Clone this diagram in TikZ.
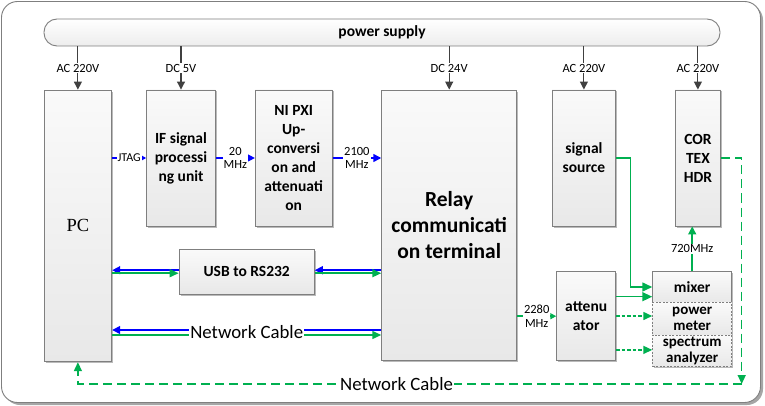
\documentclass[tikz,border=0pt]{standalone}
\usepackage{fontspec}
\setmainfont{Carlito}
\newfontfamily\serifpc{Liberation Serif}
\usepackage{tikz}
\usetikzlibrary{arrows.meta,calc,positioning,shadows}
\definecolor{LinkBlue}{HTML}{0000FF}
\definecolor{LinkGreen}{HTML}{00B050}
\definecolor{BoxEdge}{HTML}{7F7F7F}
\definecolor{PowerGray}{HTML}{404040}

\begin{document}
\begin{tikzpicture}[x=1pt,y=-1pt,
  blockbox/.style={draw=BoxEdge,line width=.9pt,top color=black!2,bottom color=black!9,
    drop shadow={shadow xshift=1.5pt,shadow yshift=-1.5pt,fill=black!45,opacity=.6},
    inner sep=1pt,align=center,font=\fontsize{15.5}{19}\selectfont\bfseries},
  dashbox/.style={dash pattern=on 2pt off 1.5pt},
  boxtext/.style={inner sep=0pt,align=center,font=\fontsize{15}{16.5}\selectfont\bfseries},
  lbl/.style={fill=white,inner sep=1pt,align=center,font=\fontsize{12.5}{13.5}\selectfont},
  cablelbl/.style={fill=white,inner sep=1pt,font=\fontsize{18.8}{20}\selectfont},
  powerline/.style={draw=PowerGray,line width=1.1pt,-{Triangle[length=8pt,width=8pt]}},
  bluelink/.style={draw=LinkBlue,line width=1.5pt,-{Triangle[length=8pt,width=8pt]}},
  greenlink/.style={draw=LinkGreen,line width=1.5pt,-{Triangle[length=9pt,width=8pt]}}]
  \useasboundingbox (0,0) rectangle (765,406);
  \fill[white] (0,0) rectangle (765,406);
  % outer frame
  \fill[black!35,rounded corners=16pt] (4,4) rectangle (763,405);
  \draw[BoxEdge,fill=white,line width=.9pt,rounded corners=16pt] (1.5,1.5) rectangle (760.5,402.5);
  % blocks
  \node[draw=BoxEdge,line width=.9pt,rounded corners=13pt,top color=white,bottom color=black!7,
    minimum width=676pt,minimum height=27pt,font=\fontsize{15.5}{19}\selectfont\bfseries]
    (bar) at (382,32.5) {power supply};
  \node[blockbox,minimum width=67.7pt,minimum height=271.7pt,font={\serifpc\fontsize{18.5}{20}\selectfont}]
    (pc) at (77.9,225.9) {PC};
  \node[blockbox,minimum width=68.6pt,minimum height=136pt] (ifu) at (181,158) {IF signal\\processi\\ng unit};
  \node[blockbox,minimum width=76.7pt,minimum height=136pt] (nipxi) at (293.7,158) {NI PXI\\Up-\\conversi\\on and\\attenuati\\on};
  \node[blockbox,minimum width=135pt,minimum height=270.7pt,font=\fontsize{21.5}{26}\selectfont\bfseries]
    (relay) at (449.2,225.4) {Relay\\communicati\\on terminal};
  \node[blockbox,minimum width=63.7pt,minimum height=136pt] (sig) at (583.9,158) {signal\\source};
  \node[blockbox,minimum width=45.7pt,minimum height=136pt] (cortex) at (697.9,158) {COR\\TEX\\HDR};
  \node[blockbox,minimum width=135.3pt,minimum height=44.7pt] (usb) at (246.7,271.7) {USB to RS232};
  \node[blockbox,minimum width=59pt,minimum height=89pt] (att) at (586.2,316.2) {attenu\\ator};
  \node[blockbox,minimum width=79pt,minimum height=30.6pt] (mixer) at (692.2,287) {mixer};
  \node[blockbox,dashbox,minimum width=79pt,minimum height=32.7pt,
    label={[boxtext]center:{power\\meter}}] (pmeter) at (692.2,318.7) {};
  \node[blockbox,dashbox,minimum width=79pt,minimum height=31.7pt,
    label={[boxtext]center:{spectrum\\analyzer}}] (spec) at (692.2,350.9) {};
  % power feeds
  \foreach \b/\v in {pc/AC 220V,ifu/DC 5V,relay/DC 24V,sig/AC 220V,cortex/AC 220V}
    \draw[powerline] (\b.north |- bar.south) -- node[lbl]{\v} (\b.north);
  % signal chain
  \draw[bluelink,-{Triangle[length=5pt,width=5pt]}] (pc.east |- ifu) -- node[lbl,font=\fontsize{12}{13}\selectfont]{JTAG} (ifu.west);
  \draw[bluelink] (ifu.east) -- node[lbl]{20\\MHz} (nipxi.west);
  \draw[bluelink] (nipxi.east) -- node[lbl]{2100\\MHz} (nipxi.east -| relay.west);
  % serial link
  \draw[bluelink] ([yshift=1.5pt]usb.west) -- ([yshift=1.5pt]pc.east |- usb.west);
  \draw[greenlink] ([yshift=-1.5pt]pc.east |- usb.west) -- ([yshift=-1.5pt]usb.west);
  \draw[bluelink] ([yshift=1.5pt]relay.west |- usb.east) -- ([yshift=1.5pt]usb.east);
  \draw[greenlink] ([yshift=-1.5pt]usb.east) -- ([yshift=-1.5pt]relay.west |- usb.east);
  % network link
  \coordinate (netR) at (relay.west |- 0,332.5);
  \draw[greenlink] ([yshift=-2.5pt]netR -| pc.east) -- ([yshift=-2.5pt]netR);
  \draw[bluelink] ([yshift=2.5pt]netR) -- node[cablelbl,yshift=-2.5pt]{Network Cable} ([yshift=2.5pt]netR -| pc.east);
  % RF path
  \draw[greenlink,-{Triangle[length=6pt,width=6pt]}] (att.west -| relay.east) -- node[lbl]{2280\\MHz} (att.west);
  \draw[greenlink,-{Triangle[length=10pt,width=9pt]}] (sig.east) -- ++(14.3,0) |- (mixer.west);
  \draw[greenlink,-{Triangle[length=10pt,width=9pt]}] ([yshift=-9.7pt]mixer.west -| att.east) -- ([yshift=-9.7pt]mixer.west);
  \draw[greenlink,dash pattern=on 3.5pt off 2pt,-{Triangle[length=9pt,width=8pt]}] ([yshift=2.7pt]pmeter.west -| att.east) -- ([yshift=2.7pt]pmeter.west);
  \draw[greenlink,dash pattern=on 3.5pt off 2pt,-{Triangle[length=9pt,width=8pt]}] ([yshift=1pt]spec.west -| att.east) -- ([yshift=1pt]spec.west);
  \draw[greenlink,-{Triangle[length=8pt,width=8pt]}] (mixer.north) -- node[lbl]{720MHz} (mixer.north |- cortex.south);
  % data back to PC
  \coordinate (turn) at (741.7,384);
  \draw[greenlink,dash pattern=on 9pt off 5pt] (cortex.east) -| (turn);
  \draw[greenlink,dash pattern=on 9pt off 5pt] (turn) -| node[cablelbl,pos=.26]{Network Cable} (pc.south);
\end{tikzpicture}
\end{document}
